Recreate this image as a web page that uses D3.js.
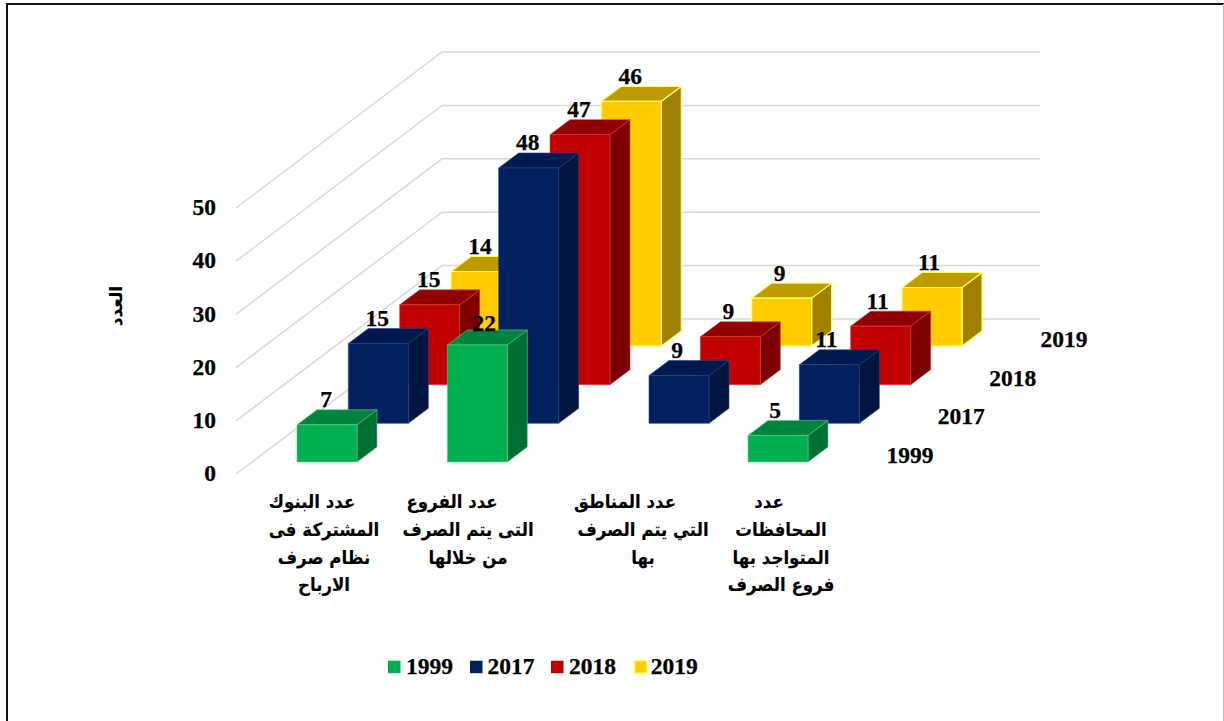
<!DOCTYPE html>
<html><head><meta charset="utf-8">
<script src="https://cdn.jsdelivr.net/npm/d3@7"></script>
<style>html,body{margin:0;padding:0;background:#fff}svg{display:block}
text{font-family:"Liberation Serif",serif;font-weight:700;fill:#000;stroke:#000;stroke-width:.25}
.ar{font-family:"DejaVu Sans",sans-serif;font-weight:700;stroke-width:.15}</style></head>
<body><svg id="c" width="1224" height="721"></svg>
<script>
const categories=[
 ["عدد البنوك","المشتركة فى","نظام صرف","الارباح"],
 ["عدد الفروع","التى يتم الصرف","من خلالها"],
 ["عدد المناطق","التي يتم الصرف","بها"],
 ["عدد","المحافظات","المتواجد بها","فروع الصرف"]];
const seriesNames=["1999","2017","2018","2019"];
const values1999=[7,22,null,5];
const values2017=[15,48,9,11];
const values2018=[15,47,9,11];
const values2019=[14,46,9,11];
const seriesValues=[values1999,values2017,values2018,values2019];
const yTicks=[0,10,20,30,40,50];
const axisTitle="العدد";
const faceColors=[
 {front:"#00b050",top:"#00843c",side:"#006f32",edge:"#5fcf8f"},
 {front:"#002060",top:"#001a4f",side:"#001540",edge:"#2a4580"},
 {front:"#c00000",top:"#900000",side:"#7c0000",edge:"#d04040"},
 {front:"#ffcc00",top:"#bf9900",side:"#a17f00",edge:"#ffff66"}];

const svg=d3.select("#c");
svg.append("path").attr("d","M7,721V4H1224").attr("fill","none").attr("stroke","#111").attr("stroke-width",2);
svg.append("line").attr("x1",1223.5).attr("x2",1223.5).attr("y1",4).attr("y2",721).attr("stroke","#bdbdbd");

const xCat=d3.scaleLinear().domain([0,3]).range([297,748]);
const barW=60;
const depthX=d3.scaleLinear().domain([0,3]).range([0,154]);
const depthY=d3.scaleLinear().domain([0,3]).range([462,346]);
const h=d3.scaleLinear().domain([0,50]).range([0,266]);
const dx=20,dy=-15;

const grid=svg.append("g").attr("fill","none").attr("stroke","#d9d9d9").attr("stroke-width",1.5);
const wallLeft=d3.scaleLinear().domain([0,50]).range([474,208]);
const wallBack=d3.scaleLinear().domain([0,50]).range([319,52]);
yTicks.forEach(t=>{
  grid.append("path").attr("d",d3.line()([[236,wallLeft(t)],[442,wallBack(t)],[1040,wallBack(t)]]));
});
svg.append("g").selectAll("text").data(yTicks).join("text")
  .attr("x",216).attr("y",d=>wallLeft(d)+7.2).attr("text-anchor","end").attr("font-size",23.5).text(d=>d);

const bars=svg.append("g");
const labels=[];
const labelShiftX=[-1,-1,-2,-3];
d3.range(3,-1,-1).forEach(s=>{
  const c=faceColors[s];
  seriesValues[s].forEach((v,i)=>{
    if(v==null)return;
    const x0=xCat(i)+depthX(s), x1=x0+barW, b=depthY(s), t=b-h(v);
    const g=bars.append("g").attr("stroke",c.edge).attr("stroke-width",s===3?1.2:0.6).attr("stroke-linejoin","round");
    const poly=(pts,f)=>g.append("polygon").attr("points",pts.join(" ")).attr("fill",f);
    poly([[x1,b],[x1+dx,b+dy],[x1+dx,t+dy],[x1,t]],c.side);
    poly([[x0,t],[x0+dx,t+dy],[x1+dx,t+dy],[x1,t]],c.top);
    poly([[x0,b],[x1,b],[x1,t],[x0,t]],c.front);
    const is22=(s===0&&i===1);
    labels.push({v,x:x0+barW/2+(is22?7:labelShiftX[i]),y:t+dy+(is22?1:-2.5)});
  });
});
svg.append("g").selectAll("text").data(labels).join("text")
  .attr("x",d=>d.x).attr("y",d=>d.y).attr("text-anchor","middle").attr("font-size",23.5).text(d=>d.v);

svg.append("g").selectAll("text").data(seriesNames).join("text")
  .attr("x",(d,i)=>xCat(0)+depthX(i)+613).attr("y",(d,i)=>depthY(i)+1)
  .attr("text-anchor","middle").attr("font-size",23.5).text(d=>d);

// category labels: first line sits left of the rest in the source
const catCenters=[324,468,643,781];
const firstLineShift=[-12,-16,-18,-12];
const catG=svg.append("g").selectAll("g").data(categories).join("g");
catG.each(function(d,i){
  d3.select(this).selectAll("text").data(d).join("text")
   .attr("class","ar").attr("text-anchor","middle").attr("direction","rtl").attr("font-size",18.5)
   .attr("transform",(l,j)=>`translate(${catCenters[i]+(j===0?firstLineShift[i]:0)},${508+j*27.8}) scale(.9,1)`)
   .text(l=>l);
});

svg.append("text").attr("class","ar").attr("transform","translate(122,306) rotate(-90)")
  .attr("text-anchor","middle").attr("font-size",17).text(axisTitle);

const legBoxX=[388,470,551,634.5];
const legTextX=[406,487.5,569,650.7];
const leg=svg.append("g").selectAll("g").data(seriesNames).join("g");
leg.append("rect").attr("x",(d,i)=>legBoxX[i]).attr("y",660.7).attr("width",12.5).attr("height",12.5)
  .attr("fill",(d,i)=>faceColors[i].front).attr("stroke",(d,i)=>i===3?"#ffff66":"none").attr("stroke-width",1.5);
leg.append("text").attr("x",(d,i)=>legTextX[i]).attr("y",674.3).attr("font-size",23.5).text(d=>d);
</script></body></html>
